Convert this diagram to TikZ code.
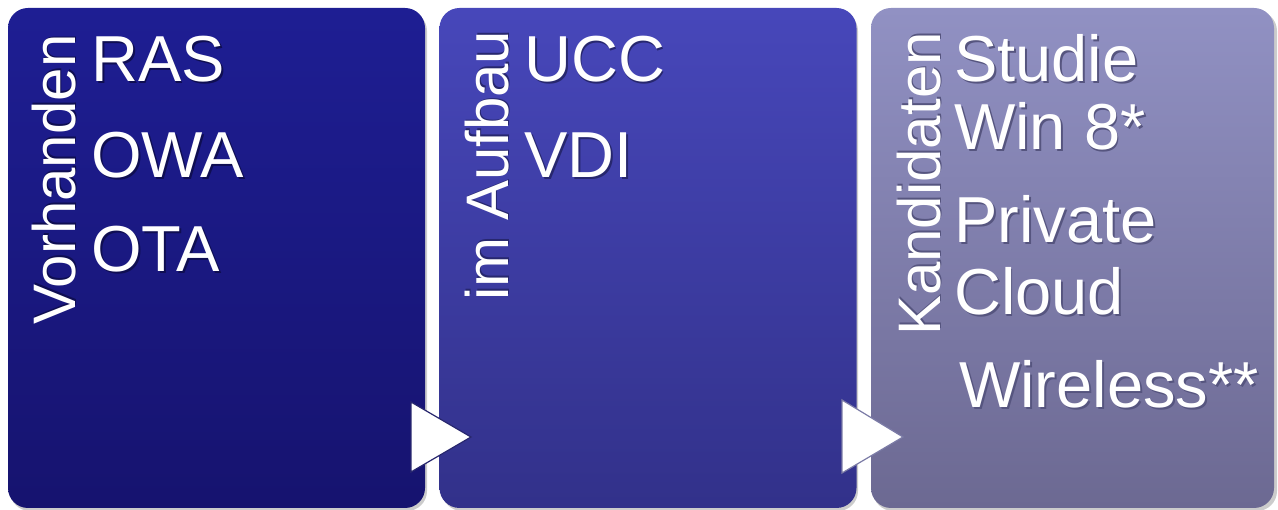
\documentclass[tikz,border=0pt]{standalone}
\usepackage{fontspec}
\setmainfont{Liberation Sans}
\usetikzlibrary{calc}

\definecolor{oneTop}{HTML}{1E1E93}
\definecolor{oneBot}{HTML}{16136F}
\definecolor{twoTop}{HTML}{4747BA}
\definecolor{twoBot}{HTML}{32318A}
\definecolor{threeTop}{HTML}{9191C3}
\definecolor{threeBot}{HTML}{6C6992}
\definecolor{shOne}{HTML}{0F0E52}
\definecolor{shTwo}{HTML}{27276E}
\definecolor{shThree}{HTML}{56557F}

% white text with a drop shadow underneath
\newcommand\shtxt[2]{%
  \makebox[0pt][l]{\kern1.8pt\raisebox{-1.8pt}{\textcolor{#1}{#2}}}#2}

\tikzset{
  stage/.style={rectangle, rounded corners=20pt, minimum width=417pt,
    minimum height=500pt, inner sep=0pt},
  boxshadow/.style={fill=black!20, rounded corners=20pt},
  item/.style={anchor=base west, inner sep=0pt, text=white,
    font=\fontsize{65}{65}\selectfont},
  head/.style={anchor=base west, inner sep=0pt, text=white, rotate=90,
    font=\fontsize{60}{60}\selectfont},
  chevron/.style={fill=white, line width=1.2pt, line join=miter},
}

\begin{document}
\begin{tikzpicture}[x=1pt, y=-1pt]
\useasboundingbox (0,0) rectangle (1278,510);

% soft shadows under the three stages
\fill[boxshadow] (10,11) rectangle (427,511);
\fill[boxshadow] (442,11) rectangle (858,511);
\fill[boxshadow] (873,11) rectangle (1277,511);

% the three stages
\node[stage, top color=oneTop, bottom color=oneBot] (s1) at (216.5,258) {};
\node[stage, top color=twoTop, bottom color=twoBot] (s2) at (648,258) {};
\node[stage, top color=threeTop, bottom color=threeBot, minimum width=403pt] (s3) at (1072.5,258) {};

% stage 1
\node[head] (h1) at (75,325) {\shtxt{shOne}{Vorhanden}};
\node[item] (t11) at (91,82) {\shtxt{shOne}{RAS}};
\node[item] (t12) at (91,178) {\shtxt{shOne}{OWA}};
\node[item] (t13) at (91,272) {\shtxt{shOne}{OTA}};

% stage 2
\node[head] (h2) at (508,301) {\shtxt{shTwo}{im Aufbau}};
\node[item] (t21) at (524,82) {\shtxt{shTwo}{UCC}};
\node[item] (t22) at (524,178) {\shtxt{shTwo}{VDI}};

% stage 3
\node[head] (h3) at (940,336) {\shtxt{shThree}{Kandidaten}};
\node[item] (t31) at (954,82) {\shtxt{shThree}{Studie}};
\node[item] (t32) at (954,150) {\shtxt{shThree}{Win 8*}};
\node[item] (t33) at (954,243) {\shtxt{shThree}{Private}};
\node[item] (t34) at (954,315) {\shtxt{shThree}{Cloud}};
\node[item] (t35) at (959,408) {\shtxt{shThree}{Wireless**}};

% chevrons between the stages
\draw[chevron, draw=twoBot!80!black] (411,402) -- (471,437) -- (411,472) -- cycle;
\draw[chevron, draw=threeTop!85!black] (842,400) -- (903,437) -- (842,473) -- cycle;
\end{tikzpicture}
\end{document}
